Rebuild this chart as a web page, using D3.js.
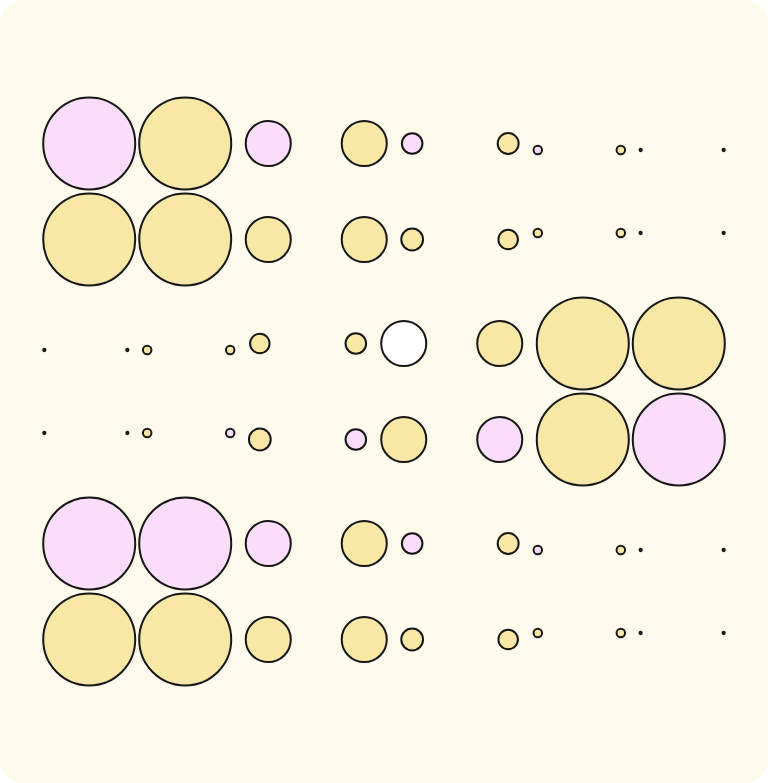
<!DOCTYPE html>
<html>
<head>
<meta charset="utf-8">
<script src="https://cdn.jsdelivr.net/npm/d3@7"></script>
<style>
  html, body { margin: 0; padding: 0; background: #ffffff; }
  svg { display: block; }
</style>
</head>
<body>
<div id="chart"></div>
<script>
let width = 768, height = 783;

// one row per line of circles, ten columns each (five pairs)
const values = [
    [1, 1, 0.24, 0.24, 0.05, 0.052, 0.0085, 0.0085, 0.0006, 0.0006],
    [1, 1, 0.24, 0.24, 0.056, 0.045, 0.0085, 0.0085, 0.0006, 0.0006],
    [0.0006, 0.0006, 0.0085, 0.0085, 0.045, 0.05, 0.24, 0.24, 1, 1],
    [0.0006, 0.0006, 0.0085, 0.0085, 0.056, 0.05, 0.24, 0.24, 1, 1],
    [1, 1, 0.24, 0.24, 0.05, 0.052, 0.0085, 0.0085, 0.0006, 0.0006],
    [1, 1, 0.24, 0.24, 0.056, 0.045, 0.0085, 0.0085, 0.0006, 0.0006]
];

// p = pink, y = yellow, w = white
const kinds = [
    ["p", "y", "p", "y", "p", "y", "p", "y", "y", "y"],
    ["y", "y", "y", "y", "y", "y", "y", "y", "y", "y"],
    ["y", "y", "y", "y", "y", "y", "w", "y", "y", "y"],
    ["y", "y", "y", "p", "y", "p", "y", "p", "y", "p"],
    ["p", "p", "p", "y", "p", "y", "p", "y", "y", "y"],
    ["y", "y", "y", "y", "y", "y", "y", "y", "y", "y"]
];

const blocks = [0, 1, 2];

const color = d3.scaleOrdinal()
    .domain(["p", "y", "w"])
    .range(["#fbdcfb", "#f9e8a5", "#ffffff"]);

const r = d3.scaleSqrt()
    .domain([0, 1])
    .range([0, 46]);

// distance between the two circles of a pair, by the pair's biggest radius
const step = d3.scaleThreshold()
    .domain([8])
    .range([83, 96]);

const stroke = 2, pad = 12.5;

const blockY = d3.scaleBand()
    .domain(blocks)
    .range([91.5, 691.5]);

const svg = d3.select("#chart")
    .append("svg")
    .attr("width", width)
    .attr("height", height);

svg.append("rect")
    .attr("width", width)
    .attr("height", height)
    .attr("rx", 22)
    .attr("fill", "#fefbec");

// lay out the pairs left to right, each block centred
const nodes = [];
blocks.forEach(b => {
    const rows = [b * 2, b * 2 + 1];
    const groups = d3.range(5).map(g => {
        const cols = [g * 2, g * 2 + 1];
        const maxR = d3.max(rows, i => d3.max(cols, j => r(values[i][j])));
        return {cols, maxR, s: step(maxR)};
    });
    let x = 0;
    groups.forEach((g, k) => {
        if (k > 0) x += pad;
        g.x0 = x + g.maxR + stroke / 2;
        x = g.x0 + g.s + g.maxR + stroke / 2;
    });
    const offset = (width - x) / 2;
    const cy = blockY(b) + blockY.bandwidth() / 2;
    groups.forEach(g => {
        rows.forEach((i, ri) => {
            g.cols.forEach((j, ci) => {
                nodes.push({
                    x: offset + g.x0 + ci * g.s,
                    y: cy + (ri === 0 ? -1 : 1) * g.s / 2,
                    v: values[i][j],
                    k: kinds[i][j]
                });
            });
        });
    });
});

svg.selectAll(".bubble")
    .data(nodes)
    .enter()
    .append("circle")
    .attr("class", "bubble")
    .attr("cx", d => d.x)
    .attr("cy", d => d.y)
    .attr("r", d => r(d.v))
    .attr("fill", d => color(d.k))
    .attr("stroke", "#161616")
    .attr("stroke-width", stroke);
</script>
</body>
</html>
